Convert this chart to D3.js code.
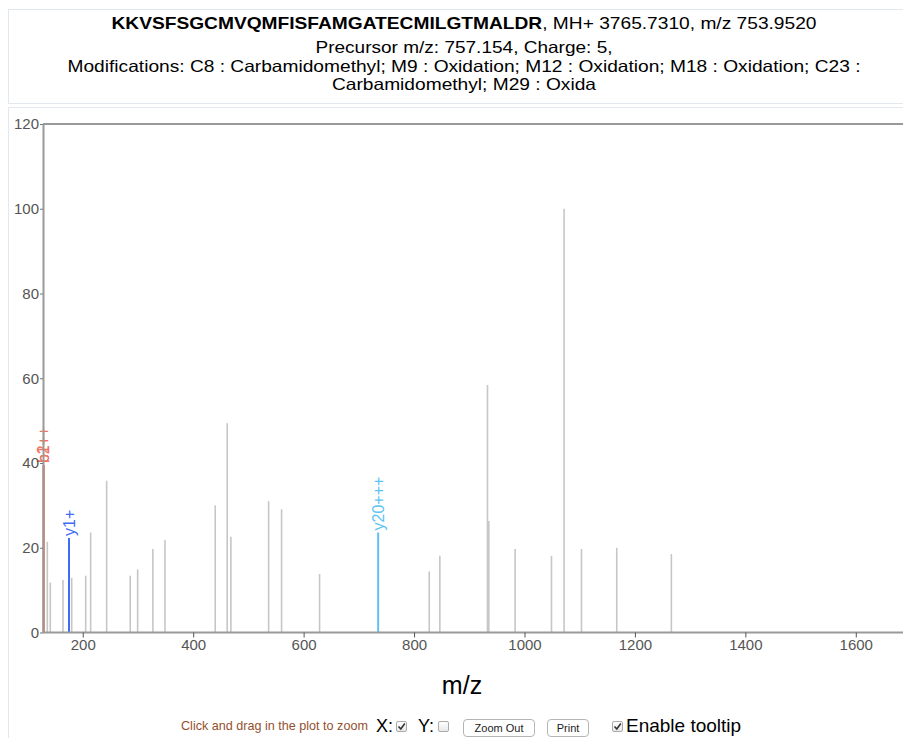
<!DOCTYPE html>
<html>
<head>
<meta charset="utf-8">
<script src="https://cdn.jsdelivr.net/npm/d3@7"></script>
<style>
  html, body { margin: 0; padding: 0; background: #fff; }
  body { width: 903px; height: 738px; overflow: hidden; position: relative;
         font-family: "Liberation Sans", Arial, Helvetica, sans-serif; }
  svg { position: absolute; left: 0; top: 0; }
  .ctl { position: absolute; white-space: nowrap; }
  .cb { position: absolute; width: 11px; height: 11px; border: 1px solid #aaa; border-radius: 2px;
        background: linear-gradient(#fff, #e8e8e8); box-sizing: border-box; }
  .btn { position: absolute; height: 18px; border: 1px solid #b5b5b5; border-radius: 4px; background: #fff;
         font-size: 11px; line-height: 16px; text-align: center; box-sizing: border-box; color: #222; }
</style>
</head>
<body>
<script>
// ---------------- data ----------------
const peptide = "KKVSFSGCMVQMFISFAMGATECMILGTMALDR";
const titleRest = ", MH+ 3765.7310, m/z 753.9520";
const subtitleLines = [
  "Precursor m/z: 757.154, Charge: 5,",
  "Modifications: C8 : Carbamidomethyl; M9 : Oxidation; M12 : Oxidation; M18 : Oxidation; C23 :",
  "Carbamidomethyl; M29 : Oxida"
];
// unannotated peaks
const peakMz  = [135.8, 141.2, 164.2, 180.0, 205.3, 214.3, 243.3, 286.0, 299.4, 327.0, 348.9,
                 439.9, 461.6, 468.3, 536.6, 560.1, 628.9, 827.5, 846.7, 933.0, 935.4, 983.0,
                 1048.9, 1071.7, 1103.2, 1167.1, 1266.0];
const peakInt = [21.4, 11.8, 12.4, 12.9, 13.4, 23.6, 35.8, 13.4, 14.9, 19.7, 21.8,
                 30.0, 49.4, 22.6, 31.0, 29.1, 13.8, 14.4, 18.1, 58.4, 26.3, 19.7,
                 18.1, 100, 19.7, 20.0, 18.5];
// annotated peaks
const annMz    = [129.1, 129.1, 175.1, 735.0];
const annInt   = [39.5, 39.5, 22.3, 23.6];
const annLabel = ["b1+", "b2++", "y1+", "y20+++"];
const xTicks = [200, 400, 600, 800, 1000, 1200, 1400, 1600];
const yTicks = [0, 20, 40, 60, 80, 100, 120];
const xLabel = "m/z";

// ---------------- drawing ----------------
const W = 903, H = 738;
const font = '"Liberation Sans", Arial, Helvetica, sans-serif';
const svg = d3.select("body").append("svg").attr("width", W).attr("height", H)
  .style("font-family", font);

// dotted panel borders
svg.append("rect").attr("x", 8.5).attr("y", 9.5).attr("width", 940).attr("height", 94)
  .attr("fill", "none").attr("stroke", "#c5d0da").attr("stroke-dasharray", "1,1");
svg.append("rect").attr("x", 8.5).attr("y", 107.5).attr("width", 940).attr("height", 700)
  .attr("fill", "none").attr("stroke", "#c5d0da").attr("stroke-dasharray", "1,1");

// title
const cx = 464;
const titleWidths = [297, 793, 264];
const t1 = svg.append("text").attr("x", cx).attr("y", 29).attr("text-anchor", "middle")
  .attr("font-size", 17).attr("fill", "#000")
  .attr("textLength", 705).attr("lengthAdjust", "spacingAndGlyphs");
t1.append("tspan").attr("font-weight", "bold").text(peptide);
t1.append("tspan").text(titleRest);
svg.selectAll("text.sub").data(subtitleLines).join("text").attr("class", "sub")
  .attr("x", cx).attr("y", (d, i) => 53 + i * 18.6)
  .attr("text-anchor", "middle").attr("font-size", 16.5).attr("fill", "#000")
  .attr("textLength", (d, i) => titleWidths[i]).attr("lengthAdjust", "spacingAndGlyphs")
  .text(d => d);

// scales
const x = d3.scaleLinear().domain([128, 1700]).range([43, 911]);
const y = d3.scaleLinear().domain([0, 120]).range([632.5, 124]);

// frame: top line
svg.append("line").attr("x1", x.range()[0]).attr("x2", W).attr("y1", y(120)).attr("y2", y(120))
  .attr("stroke", "#999").attr("stroke-width", 2);

// peaks
svg.append("g").selectAll("line").data(peakMz).join("line")
  .attr("x1", d => x(d)).attr("x2", d => x(d))
  .attr("y1", y(0)).attr("y2", (d, i) => y(peakInt[i]))
  .attr("stroke", "#c6c6c6").attr("stroke-width", 1.6);

const ionColor = d3.scaleOrdinal().domain(annLabel).range(["#f2735f", "#f2735f", "#3f6cf7", "#5ec3f2"]);
const ann = svg.append("g");
ann.selectAll("line").data(annMz).join("line")
  .attr("x1", d => x(d)).attr("x2", d => x(d))
  .attr("y1", y(0)).attr("y2", (d, i) => y(annInt[i]))
  .attr("stroke", (d, i) => ionColor(annLabel[i])).attr("stroke-width", 2);
ann.selectAll("text").data(annMz).join("text")
  .attr("transform", (d, i) => `translate(${x(d)},${y(annInt[i]) - 2}) rotate(-90)`)
  .attr("dy", "0.35em").attr("font-size", 16)
  .attr("fill", (d, i) => ionColor(annLabel[i]))
  .text((d, i) => annLabel[i]);

// axes
const gx = svg.append("g").attr("transform", `translate(0,${y(0)})`)
  .call(d3.axisBottom(x).tickValues(xTicks).tickSize(5).tickSizeOuter(0).tickFormat(d3.format("d")));
gx.select(".domain").attr("d", `M${x.range()[0]},0H${W}`).attr("stroke", "#999").attr("stroke-width", 2);
gx.selectAll(".tick line").attr("stroke", "#555");
gx.selectAll(".tick text").attr("fill", "#555").attr("font-size", 15).attr("font-family", font).attr("dy", "0.6em");

const gy = svg.append("g").attr("transform", `translate(${x.range()[0]},0)`)
  .call(d3.axisLeft(y).tickValues(yTicks).tickSize(3).tickSizeOuter(0).tickPadding(1));
gy.select(".domain").attr("stroke", "#999").attr("stroke-width", 2);
gy.selectAll(".tick line").attr("stroke", "#777");
gy.selectAll(".tick text").attr("fill", "#555").attr("font-size", 15).attr("font-family", font);

// x label
svg.append("text").attr("x", 462).attr("y", 694).attr("text-anchor", "middle")
  .attr("font-size", 25).attr("fill", "#000").text(xLabel);

// controls (HTML)
const body = d3.select("body");
function ctl(txt, left, top, size, color) {
  body.append("div").attr("class", "ctl").style("left", left + "px").style("top", top + "px")
    .style("font-size", size + "px").style("color", color).text(txt);
}
function cb(left, checked) {
  const b = body.append("div").attr("class", "cb").style("left", left + "px").style("top", "721px");
  if (checked) b.append("svg").attr("width", 9).attr("height", 9).style("left", "0px").style("top", "0px")
    .append("path").attr("d", "M1.5,4.5 L3.8,7 L7.8,1.5").attr("fill", "none").attr("stroke", "#333").attr("stroke-width", 1.6);
}
ctl("Click and drag in the plot to zoom", 181, 719, 12.6, "#94502e");
ctl("X:", 376, 716, 18, "#000");
cb(396, true);
ctl("Y:", 418, 716, 18, "#000");
cb(438, false);
body.append("div").attr("class", "btn").style("left", "463px").style("top", "719px").style("width", "72px").text("Zoom Out");
body.append("div").attr("class", "btn").style("left", "547px").style("top", "719px").style("width", "42px").text("Print");
cb(612, true);
ctl("Enable tooltip", 626, 715, 19, "#000");
</script>
</body>
</html>
